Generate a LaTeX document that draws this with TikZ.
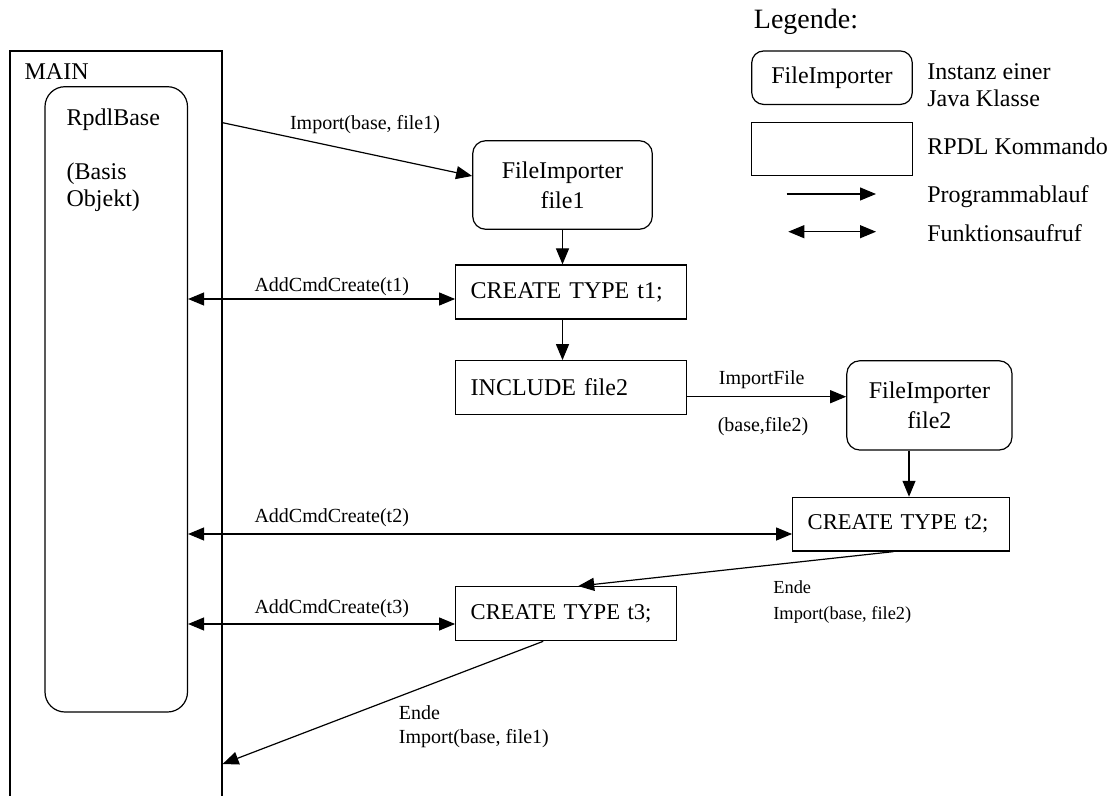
\documentclass[tikz,border=0pt]{standalone}
\usepackage{fontspec}
\setmainfont{Liberation Serif}
\usetikzlibrary{arrows.meta}

\begin{document}
\begin{tikzpicture}[x=0.5pt, y=-0.5pt, line width=0.6pt,
    >={Triangle[length=8pt,width=6.5pt]},
    inst/.style={draw, rounded corners=6.5pt, align=center, font=\fontsize{12}{15}\selectfont},
    cmd/.style={draw, inner xsep=7.5pt, align=left, font=\fontsize{12}{14}\selectfont},
    lbl/.style={inner sep=0pt, font=\fontsize{10}{12}\selectfont},
    legtext/.style={anchor=west, align=left, inner sep=0pt, font=\fontsize{12}{13.3}\selectfont}]
    \useasboundingbox (0,0) rectangle (1107,796);

    % Main program and base object
    \node[draw, minimum width=106pt, minimum height=374.5pt] (main) at (116,425.5) {};
    \node[anchor=west, inner sep=0pt, font=\fontsize{12}{14}\selectfont] (mainlbl) at (24,72) {MAIN};
    \node[draw, rounded corners=10pt, minimum width=71.25pt, minimum height=312.65pt] (base) at (116.25,399.35) {};
    \node[anchor=north west, align=left, inner sep=0pt, font=\fontsize{12}{13.5}\selectfont] (basetxt) at (66,108) {RpdlBase\\[13.5pt](Basis\\Objekt)};

    % Importers and commands
    \node[inst, minimum width=89.8pt, minimum height=44.3pt] (file1) at (562.5,185) {FileImporter\\file1};
    \node[cmd, text width=100.5pt, minimum height=27pt] (t1) at (571.2,292) {CREATE TYPE t1;};
    \node[cmd, text width=100.5pt, minimum height=26.8pt] (inc) at (571.2,387.5) {INCLUDE file2};
    \node[inst, minimum width=82.6pt, minimum height=44.65pt] (file2) at (929.4,405.4) {FileImporter\\file2};
    \node[cmd, text width=93.3pt, minimum height=26.85pt, font=\fontsize{11.3}{13}\selectfont] (t2) at (901,524.2) {CREATE TYPE t2;};
    \node[cmd, text width=95.5pt, minimum height=27pt, font=\fontsize{11.3}{13}\selectfont] (t3) at (566.2,613.7) {CREATE TYPE t3;};

    % Program flow
    \draw[->] (main.east |- 0,122.7) -- ([yshift=4.5pt]file1.west);
    \draw[->] (file1.south) -- (file1.south |- t1.north);
    \draw[->] (file1.south |- t1.south) -- (file1.south |- inc.north);
    \coordinate (i1) at ([yshift=-4.6pt]inc.east);
    \draw[->] (i1) -- (i1 -| file2.west);
    \coordinate (d2) at ([xshift=4pt]t2.north);
    \draw[->] (d2 |- file2.south) -- (d2);
    \draw[->] ([xshift=-3.85pt]t2.south) -- ([xshift=6pt]t3.north);
    \draw[->] ([xshift=-11.5pt]t3.south) -- (main.east |- 0,764);

    % Function calls
    \coordinate (a1) at ([yshift=-3.5pt]t1.west);
    \coordinate (a2) at ([yshift=-4.9pt]t2.west);
    \coordinate (a3) at ([yshift=-5.15pt]t3.west);
    \draw[<->] (base.east |- a1) -- (a1);
    \draw[<->] (base.east |- a2) -- (a2);
    \draw[<->] (base.east |- a3) -- (a3);

    % Labels
    \node[lbl] (impl) at (365,125) {Import(base, file1)};
    \node[lbl] (cr1l) at (331.7,286.7) {AddCmdCreate(t1)};
    \node[lbl] (ifl) at (761.7,380) {ImportFile};
    \node[lbl] (ifl2) at (763,426.5) {(base,file2)};
    \node[lbl] (cr2l) at (331.7,518) {AddCmdCreate(t2)};
    \node[lbl] (cr3l) at (331.7,608.3) {AddCmdCreate(t3)};
    \node[lbl, anchor=west, align=left, font=\fontsize{9.2}{12.85}\selectfont] (end2l) at (772.7,602) {Ende\\Import(base, file2)};
    \node[lbl, anchor=west, align=left, font=\fontsize{10}{11.7}\selectfont] (end1l) at (398.3,726.7) {Ende\\Import(base, file1)};

    % Legend
    \node[anchor=west, inner sep=0pt, font=\fontsize{14}{16}\selectfont] (legend) at (753.3,22) {Legende:};
    \node[inst, rounded corners=6pt, minimum width=80.3pt, minimum height=26.75pt] (leginst) at (832,77.7) {FileImporter};
    \node[draw, minimum width=80.3pt, minimum height=26.5pt] (legcmd) at (832,149.2) {};
    \node[legtext] (leginsttxt) at (926.7,85) {Instanz einer\\Java Klasse};
    \node[legtext] (legcmdtxt) at (926.7,146.7) {RPDL Kommando};
    \coordinate (lf1) at (786.7,194);
    \coordinate (lf2) at (876,194);
    \draw[->] (lf1) -- (lf2);
    \node[legtext] (legflow) at (926.7,196.7) {Programmablauf};
    \coordinate (lc1) at (788.3,231.7);
    \coordinate (lc2) at (876,231.7);
    \draw[<->] (lc1) -- (lc2);
    \node[legtext] (legcall) at (926.7,233.3) {Funktionsaufruf};
\end{tikzpicture}
\end{document}
